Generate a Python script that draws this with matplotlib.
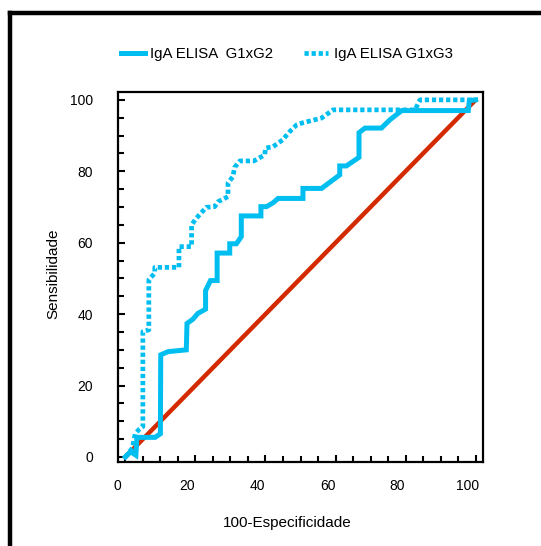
import matplotlib
matplotlib.use('Agg')
import matplotlib.pyplot as plt
from matplotlib.lines import Line2D
from matplotlib.ticker import MultipleLocator
from matplotlib.transforms import ScaledTranslation

plt.rcParams['font.family'] = ['Liberation Sans', 'DejaVu Sans']

# ROC curve points (100-especificidade, sensibilidade)
g2_x = [0, 1.5, 3.0, 3.3, 8.5, 10.0, 10.1, 12.2, 17.4, 17.6, 19.3, 20.7, 22.9, 22.9, 24.3, 26.2,
        26.2, 29.8, 29.8, 31.7, 33.1, 33.1, 38.7, 38.7, 40.3, 42.2, 43.6, 50.7, 50.7, 56.0,
        61.2, 61.2, 63.1, 66.7, 66.7, 68.4, 73.1, 75.5, 78.9, 97.9, 98.2, 100.0]
g2_y = [0, 1.5, 0.5, 5.5, 5.5, 6.5, 28.6, 29.5, 30.0, 37.4, 38.6, 40.2, 41.4, 46.6, 49.4, 49.4,
        57.1, 57.1, 59.7, 59.7, 61.7, 67.5, 67.5, 70.1, 70.1, 71.2, 72.4, 72.4, 75.2, 75.2,
        79.0, 81.5, 81.5, 83.9, 90.8, 92.1, 92.1, 94.4, 97.0, 97.0, 99.8, 100.0]

g3_x = [0, 2.0, 2.8, 4.0, 5.0, 5.0, 6.7, 6.7, 8.4, 8.4, 15.3, 15.3, 18.9, 18.9, 20.3, 23.1,
        25.5, 26.5, 29.3, 29.3, 30.7, 31.2, 32.7, 36.7, 39.8, 40.0, 42.2, 44.9, 46.9, 48.9,
        50.7, 56.0, 59.3, 82.7, 84.1, 100.0]
g3_y = [0, 2.5, 6.5, 7.8, 8.5, 35.1, 35.6, 49.6, 51.5, 53.1, 53.1, 58.9, 58.9, 65.0, 66.9, 69.9,
        70.1, 71.5, 72.9, 76.7, 78.5, 81.1, 82.9, 82.9, 84.6, 86.5, 86.9, 88.8, 91.1, 93.0,
        93.6, 94.9, 97.2, 97.2, 100.0, 100.0]

ref_x = [0, 100]
ref_y = [0, 100]

labels = ['IgA ELISA  G1xG2', 'IgA ELISA G1xG3']
blue = '#00BFF0'
red = '#D42A00'

fig = plt.figure(figsize=(5.41, 5.46), dpi=100)
ax = fig.add_axes([118/541, 1-462/546, 365/541, 370/546])

ax.plot(ref_x, ref_y, color=red, lw=3.2, solid_capstyle='butt')
l1, = ax.plot(g2_x, g2_y, color=blue, lw=3.6, solid_joinstyle='miter')
l2, = ax.plot(g3_x, g3_y, color=blue, lw=3.4, linestyle=(0, (0.9, 0.6)),
              dash_capstyle='butt')

ax.set_xlim(-2.1, 102.1)
ax.set_ylim(-1.4, 102.2)
ax.xaxis.set_major_locator(MultipleLocator(20))
ax.xaxis.set_minor_locator(MultipleLocator(5))
ax.yaxis.set_major_locator(MultipleLocator(20))
ax.yaxis.set_minor_locator(MultipleLocator(5))
ax.tick_params(which='both', direction='in', top=False, right=False, width=1.5, labelsize=10)
ax.tick_params(which='major', length=5)
ax.tick_params(which='minor', length=4)
ax.tick_params(axis='y', pad=18)
ax.tick_params(axis='x', pad=12)
for s in ax.spines.values():
    s.set_linewidth(1.6)

# x tick labels sit a bit left of their ticks in the original
off = ScaledTranslation(-8/100, 0, fig.dpi_scale_trans)
for lab in ax.get_xticklabels():
    lab.set_transform(lab.get_transform() + off)

ax.set_xlabel('100-Especificidade', fontsize=11)
ax.xaxis.set_label_coords(0.463, -0.147)
ax.set_ylabel('Sensibilidade', fontsize=11)
ax.yaxis.set_label_coords(-0.159, 0.51)

fig.legend([l1, l2], labels, loc='center', bbox_to_anchor=(286.5/541, 1-54/546),
           ncol=2, frameon=False, fontsize=10.8, handlelength=1.6, handletextpad=0.4,
           columnspacing=2.0)

# outer frame (top and left edges only)
fig.add_artist(Line2D([9.5/541, 1], [1-12.5/546, 1-12.5/546], color='black', lw=3.2,
                      transform=fig.transFigure))
fig.add_artist(Line2D([9.5/541, 9.5/541], [0, 1-12.5/546], color='black', lw=3.2,
                      transform=fig.transFigure, solid_capstyle='projecting'))

fig.savefig('out.png', dpi=100)
